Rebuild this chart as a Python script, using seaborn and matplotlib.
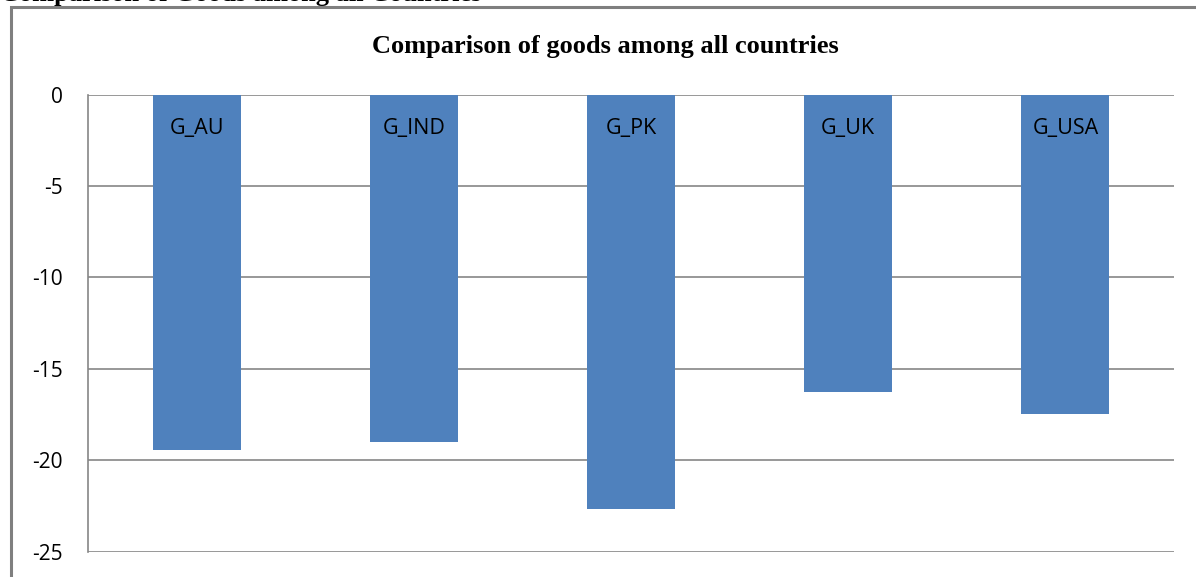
import matplotlib
matplotlib.use("Agg")
import matplotlib.pyplot as plt
import seaborn as sns
import pandas as pd
from matplotlib.patches import Rectangle

categories = ["G_AU", "G_IND", "G_PK", "G_UK", "G_USA"]
values = [-19.45, -19.0, -22.65, -16.3, -17.5]
yticks = [0, -5, -10, -15, -20, -25]

df = pd.DataFrame({"country": categories, "value": values})

sns.set_theme(style="white")
plt.rcParams["font.family"] = ["Open Sans", "DejaVu Sans"]

fig = plt.figure(figsize=(11.96, 5.77), dpi=100)
ax = fig.add_axes([88 / 1196, 1 - 551.5 / 577, (1174 - 88) / 1196, (551.5 - 94.5) / 577])

sns.barplot(data=df, x="country", y="value", color="#4F81BD", saturation=1,
            width=0.405, ax=ax, zorder=3)
for p in ax.patches:
    p.set_edgecolor("none")

ax.set_ylim(-25, 0)
ax.set_xlim(-0.5, 4.5)
ax.set_yticks(yticks)
ax.set_yticklabels([str(t) for t in yticks], fontsize=15)
ax.tick_params(axis="y", length=0, pad=18, labelcolor="#000000")
ax.set_xticks([])
ax.set_xlabel("")
ax.set_ylabel("")
ax.yaxis.grid(True, color="#868686", linewidth=1.2, zorder=0)
ax.set_axisbelow(True)
for s in ["top", "right", "bottom"]:
    ax.spines[s].set_visible(False)
ax.spines["left"].set_color("#868686")
ax.spines["left"].set_linewidth(1.2)

for i, c in enumerate(categories):
    ax.text(i, -1.85, c, ha="center", va="center", fontsize=15.5, color="#000000", zorder=5)

fig.text(605 / 1196, 1 - 46 / 577, "Comparison of goods among all countries",
         ha="center", va="center", fontsize=19, fontweight="bold",
         family=["Liberation Serif", "DejaVu Serif"], color="#000000")

fig.text(0.0, 1 - 1.5 / 577, "Comparison of Goods among all Countries",
         ha="left", va="baseline", fontsize=19, fontweight="bold",
         family=["Liberation Serif", "DejaVu Serif"], color="#000000")

fig.patches.append(Rectangle((11 / 1196, -0.1), 1.2, 1.1 - 7 / 577,
                             transform=fig.transFigure, fill=False,
                             edgecolor="#7F7F7F", linewidth=2.2))

fig.savefig("out.png", dpi=100)
